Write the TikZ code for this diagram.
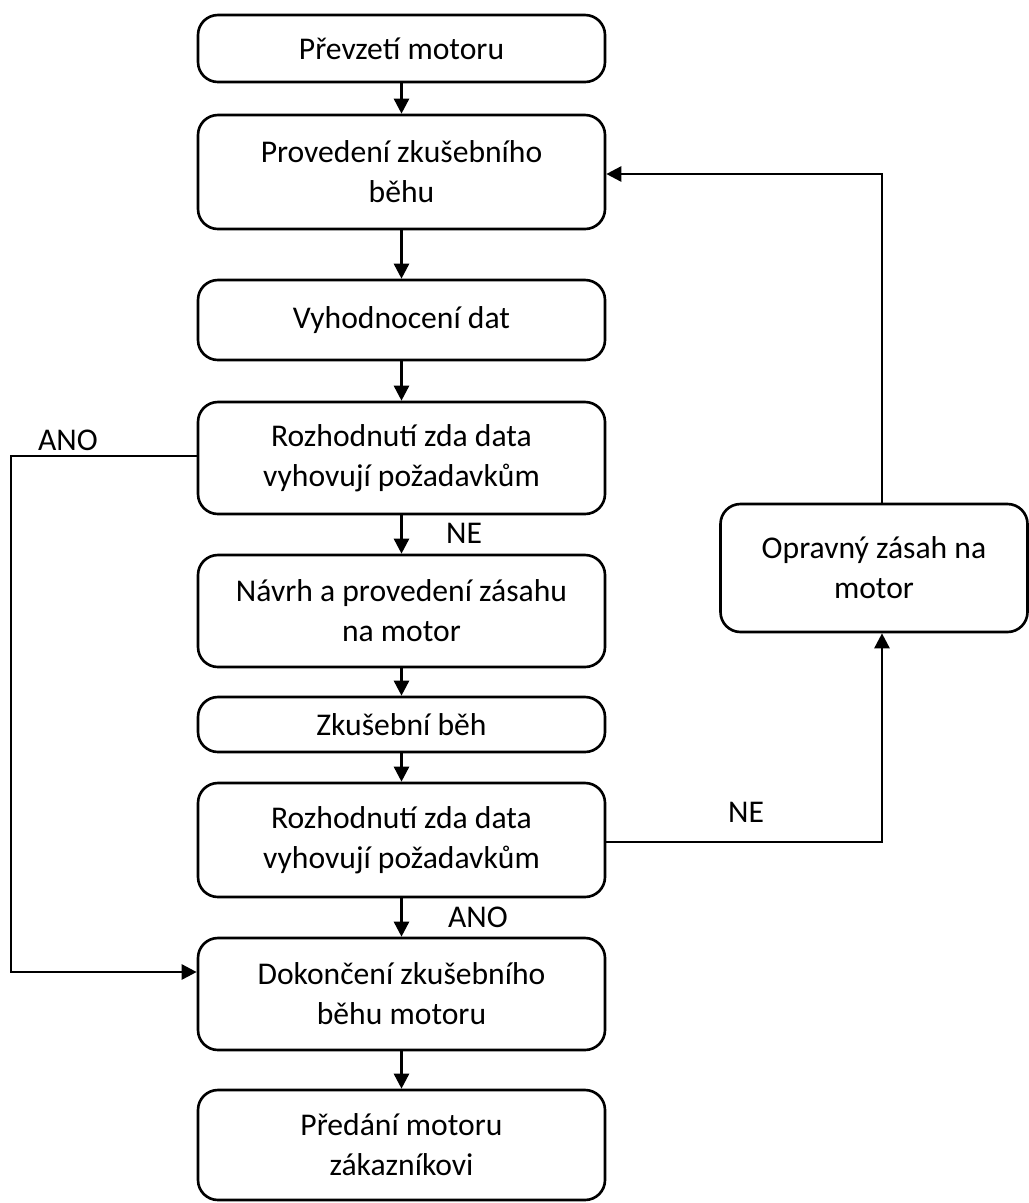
\documentclass[tikz,border=0pt]{standalone}
\usepackage{fontspec}
\setmainfont{Carlito}
\usetikzlibrary{arrows.meta}
\tikzset{
  stepbox/.style={draw, line width=1.5pt, rounded corners=0.4cm, minimum width=8.14cm, align=center,
    font=\fontsize{18}{22.8}\selectfont},
  flow/.style={line width=1.5pt, -{Triangle[width=0.3cm, length=0.3cm]}},
  lbl/.style={font=\fontsize{18}{20}\selectfont}
}
\begin{document}
\begin{tikzpicture}
      \useasboundingbox (0, 0) rectangle (20.58, -24.06);

      \node[stepbox, minimum height=1.34cm] (prevzeti) at (8.03, -0.97) {Převzetí motoru};
      \node[stepbox, minimum height=2.28cm] (beh) at (8.03, -3.44) {Provedení zkušebního\\běhu};
      \node[stepbox, minimum height=1.6cm] (vyhod) at (8.03, -6.4) {Vyhodnocení dat};
      \node[stepbox, minimum height=2.24cm] (rozh1) at (8.03, -9.16) {Rozhodnutí zda data\\vyhovují požadavkům};
      \node[stepbox, minimum height=2.24cm] (navrh) at (8.03, -12.22) {Návrh a provedení zásahu\\na motor};
      \node[stepbox, minimum height=1.1cm] (zkbeh) at (8.03, -14.49) {Zkušební běh};
      \node[stepbox, minimum height=2.28cm] (rozh2) at (8.03, -16.8) {Rozhodnutí zda data\\vyhovují požadavkům};
      \node[stepbox, minimum height=2.24cm] (dokonc) at (8.03, -19.88) {Dokončení zkušebního\\běhu motoru};
      \node[stepbox, minimum height=2.2cm] (predani) at (8.03, -22.9) {Předání motoru\\zákazníkovi};
      \node[stepbox, minimum width=6.14cm, minimum height=2.56cm] (oprava) at (17.48, -11.36) {Opravný zásah na\\motor};

      \draw[flow] (prevzeti) -- (beh);
      \draw[flow] (beh) -- (vyhod);
      \draw[flow] (vyhod) -- (rozh1);
      \draw[flow] (rozh1) -- (navrh);
      \draw[flow] (navrh) -- (zkbeh);
      \draw[flow] (zkbeh) -- (rozh2);
      \draw[flow] (rozh2) -- (dokonc);
      \draw[flow] (dokonc) -- (predani);

      % ANO vetev vlevo
      \coordinate (ano) at (0.22, -19.44);
      \draw[line width=0.6pt] (rozh1.west |- 0, -9.12) -- (0.22, -9.12) -- (ano) -- (0.66, -19.44);
      \draw[flow] (0.66, -19.44) -- (dokonc.west |- ano);

      % NE vetev vpravo
      \coordinate (ne) at (17.64, -16.84);
      \draw[flow] (rozh2.east |- ne) -- (ne) -- (ne |- oprava.south);
      \draw[flow] (ne |- oprava.north) -- (17.64, -3.48) -- (beh.east |- 0, -3.48);

      \node[lbl] at (1.36, -8.8) {ANO};
      \node[lbl] at (9.28, -10.66) {NE};
      \node[lbl] at (9.56, -18.34) {ANO};
      \node[lbl] at (14.92, -16.24) {NE};
    \end{tikzpicture}
\end{document}
